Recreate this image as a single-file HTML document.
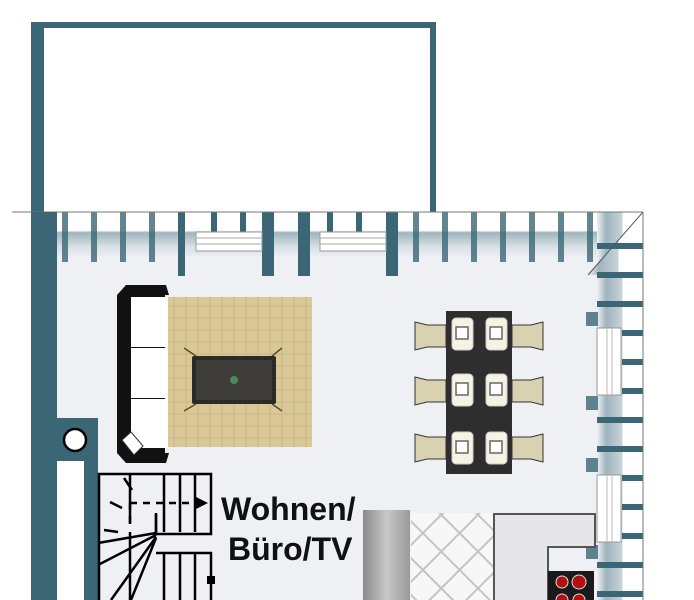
<!DOCTYPE html>
<html><head><meta charset="utf-8"><style>
html,body{margin:0;padding:0;background:#fff;width:694px;height:600px;overflow:hidden}
svg{display:block}
</style></head><body>
<svg width="694" height="600" viewBox="0 0 694 600" xmlns="http://www.w3.org/2000/svg">
<defs>
<linearGradient id="bandV" x1="0" y1="0" x2="0" y2="1">
<stop offset="0" stop-color="#fff"/><stop offset="0.4" stop-color="#fff"/>
<stop offset="0.45" stop-color="#9fb4bd"/><stop offset="0.75" stop-color="#d7e0e4"/><stop offset="1" stop-color="#eef0f4"/>
</linearGradient>
<linearGradient id="bandH" x1="0" y1="0" x2="1" y2="0">
<stop offset="0" stop-color="#eef0f4"/><stop offset="0.2" stop-color="#9fb4bd"/><stop offset="0.55" stop-color="#c8d4d9"/><stop offset="0.56" stop-color="#fff"/><stop offset="1" stop-color="#fff"/>
</linearGradient>
<linearGradient id="col" x1="0" y1="0" x2="1" y2="0">
<stop offset="0" stop-color="#8a8a8a"/><stop offset="0.5" stop-color="#c8c8c8"/><stop offset="1" stop-color="#9a9a9a"/>
</linearGradient>
<pattern id="tile" width="26" height="26" patternUnits="userSpaceOnUse" patternTransform="rotate(45)">
<rect width="26" height="26" fill="#f7f7f7"/><rect width="26" height="26" fill="none" stroke="#c4c4c4" stroke-width="2"/>
</pattern>
<pattern id="rug" width="12" height="12" patternUnits="userSpaceOnUse">
<rect width="12" height="12" fill="#d9c996"/><path d="M0 6h12M6 0v12" stroke="#c9b882" stroke-width="1"/>
</pattern>
</defs>
<rect x="31" y="22" width="13" height="192" fill="#3a6676"/>
<rect x="31" y="22" width="405" height="6" fill="#3a6676"/>
<rect x="430" y="22" width="6" height="192" fill="#3a6676"/>
<rect x="12" y="212" width="631" height="388" fill="#eef0f4"/>
<rect x="12" y="212" width="585" height="46" fill="url(#bandV)"/>
<rect x="12" y="212" width="22" height="388" fill="#fff"/>
<g fill="#3a6676">
<rect x="33" y="212" width="6" height="44"/><rect x="62" y="212" width="6" height="50" opacity=".8"/>
<rect x="91" y="212" width="6" height="50" opacity=".8"/><rect x="120" y="212" width="6" height="50" opacity=".8"/>
<rect x="149" y="212" width="6" height="50" opacity=".8"/><rect x="178" y="212" width="7" height="64"/>
<rect x="262" y="212" width="12" height="64"/><rect x="298" y="212" width="12" height="64"/>
<rect x="386" y="212" width="12" height="64"/><rect x="413" y="212" width="6" height="50" opacity=".8"/>
<rect x="442" y="212" width="6" height="50" opacity=".8"/><rect x="471" y="212" width="6" height="50" opacity=".8"/>
<rect x="500" y="212" width="6" height="50" opacity=".8"/><rect x="529" y="212" width="6" height="50" opacity=".8"/>
<rect x="558" y="212" width="6" height="50" opacity=".8"/><rect x="587" y="212" width="6" height="50" opacity=".8"/>
<rect x="211" y="212" width="6" height="20"/><rect x="240" y="212" width="6" height="20"/>
<rect x="327" y="212" width="6" height="20"/><rect x="356" y="212" width="6" height="20"/>
</g>
<g fill="#fff" stroke="#999" stroke-width="1">
<rect x="196" y="232" width="66" height="19"/><rect x="320" y="232" width="66" height="19"/>
</g>
<path d="M196 238h66M196 244h66M320 238h66M320 244h66" stroke="#aaa"/>
<rect x="597" y="212" width="46" height="388" fill="url(#bandH)"/>
<polygon points="643,212 643,212 588,275 643,275" fill="url(#bandH)"/>
<g fill="#3a6676">
<rect x="597" y="243" width="46" height="6"/><rect x="597" y="272" width="46" height="6"/>
<rect x="597" y="301" width="46" height="6"/><rect x="622" y="330" width="21" height="6"/>
<rect x="622" y="359" width="21" height="6"/><rect x="622" y="388" width="21" height="6"/>
<rect x="597" y="417" width="46" height="6"/><rect x="597" y="446" width="46" height="6"/>
<rect x="622" y="475" width="21" height="6"/><rect x="622" y="504" width="21" height="6"/>
<rect x="622" y="533" width="21" height="6"/><rect x="597" y="562" width="46" height="6"/>
<rect x="597" y="591" width="46" height="6"/>
<rect x="586" y="312" width="12" height="14" opacity=".8"/><rect x="586" y="396" width="12" height="14" opacity=".8"/>
<rect x="586" y="458" width="12" height="14" opacity=".8"/><rect x="586" y="545" width="12" height="14" opacity=".8"/>
</g>
<g fill="#fff" stroke="#999"><rect x="597" y="328" width="24" height="67"/><rect x="597" y="475" width="24" height="67"/></g>
<path d="M607 328v67M612 328v67M607 475v67M612 475v67" stroke="#bbb"/>
<line x1="643" y1="212" x2="588" y2="275" stroke="#555" stroke-width="1"/>
<line x1="12" y1="212" x2="643" y2="212" stroke="#777" stroke-width="1"/>
<line x1="643" y1="212" x2="643" y2="600" stroke="#777" stroke-width="1"/>
<rect x="31" y="212" width="26" height="388" fill="#3a6676"/>
<rect x="31" y="418" width="67" height="182" fill="#3a6676"/>
<rect x="57" y="461" width="27" height="139" fill="#fff"/>
<circle cx="75" cy="440" r="11" fill="#fff" stroke="#000" stroke-width="2.5"/>
<path d="M126 285h40l3 10h-4v158h4l-3 10h-40l-9-10v-158z" fill="#111"/>
<rect x="131" y="297" width="37" height="50" fill="#fff"/><rect x="131" y="348" width="37" height="50" fill="#fff"/>
<rect x="131" y="399" width="37" height="49" fill="#fff"/>
<polygon points="122,440 131,432 143,446 134,455" fill="#fff" stroke="#333"/>
<rect x="168" y="297" width="144" height="150" fill="url(#rug)"/>
<path d="M184 348l12 8M282 348l-10 8M184 411l12-7M282 411l-10-7" stroke="#5a4a30" stroke-width="1.5"/>
<rect x="192" y="356" width="84" height="48" rx="2" fill="#2a2a28"/>
<rect x="196" y="360" width="76" height="40" fill="#3e3d39"/>
<circle cx="234" cy="380" r="4" fill="#4a8a5a"/>
<g fill="#d9d2b0" stroke="#333" stroke-width="1">
<path d="M415 322l12 3h19v22h-19l-12 3z"/><path d="M415 377l12 3h19v22h-19l-12 3z"/><path d="M415 434l12 3h19v22h-19l-12 3z"/>
<path d="M543 322l-12 3h-19v22h19l12 3z"/><path d="M543 377l-12 3h-19v22h19l12 3z"/><path d="M543 434l-12 3h-19v22h19l12 3z"/>
</g>
<rect x="446" y="311" width="66" height="163" fill="#2e2e2e"/>
<g fill="#f6f3e4" stroke="#ccc">
<rect x="452" y="318" width="21" height="32" rx="4"/><rect x="486" y="318" width="21" height="32" rx="4"/>
<rect x="452" y="374" width="21" height="32" rx="4"/><rect x="486" y="374" width="21" height="32" rx="4"/>
<rect x="452" y="432" width="21" height="32" rx="4"/><rect x="486" y="432" width="21" height="32" rx="4"/>
</g>
<g fill="#fff" stroke="#666" stroke-width="1.5">
<rect x="456" y="327" width="12" height="12"/><rect x="490" y="327" width="12" height="12"/>
<rect x="456" y="383" width="12" height="12"/><rect x="490" y="383" width="12" height="12"/>
<rect x="456" y="441" width="12" height="12"/><rect x="490" y="441" width="12" height="12"/>
</g>
<g fill="none" stroke="#000" stroke-width="2.5">
<path d="M99 600V474h112v60h-55v-20"/>
<path d="M156 533v-20M130 474v50M164 474v58M180 474v58M195 474v58"/>
<path d="M156 553h55v47M130 600V532M164 553v47M180 553v47M195 553v47M156 533l-58 10M156 535l-58 30M156 537l-45 63M156 538l-25 62"/>
<path d="M124 478l8 12M110 502l12 6M104 530l14 2" />
</g>
<path d="M130 503h70M130 503v20" stroke="#000" stroke-width="2.5" stroke-dasharray="7 6" fill="none"/>
<polygon points="196,497 208,503 196,509" fill="#000"/>
<rect x="207" y="576" width="8" height="8" fill="#000"/>
<text x="221" y="520" font-family="Liberation Sans, sans-serif" font-weight="bold" font-size="32" fill="#111">Wohnen/</text>
<text x="228" y="560" font-family="Liberation Sans, sans-serif" font-weight="bold" font-size="32" fill="#111">Büro/TV</text>
<rect x="363" y="510" width="47" height="90" fill="url(#col)"/>
<rect x="411" y="513" width="84" height="87" fill="url(#tile)"/>
<path d="M494 600V514h101v33H548v53" fill="#e6e6e8" stroke="#555" stroke-width="2"/>
<rect x="548" y="571" width="46" height="29" fill="#1a1a1a"/>
<circle cx="562" cy="582" r="6" fill="#b01010" stroke="#ddd"/><circle cx="579" cy="582" r="7" fill="#b01010" stroke="#ddd"/>
<circle cx="562" cy="600" r="6" fill="#b01010" stroke="#ddd"/><circle cx="579" cy="600" r="6" fill="#b01010" stroke="#ddd"/>
</svg>
</body></html>
